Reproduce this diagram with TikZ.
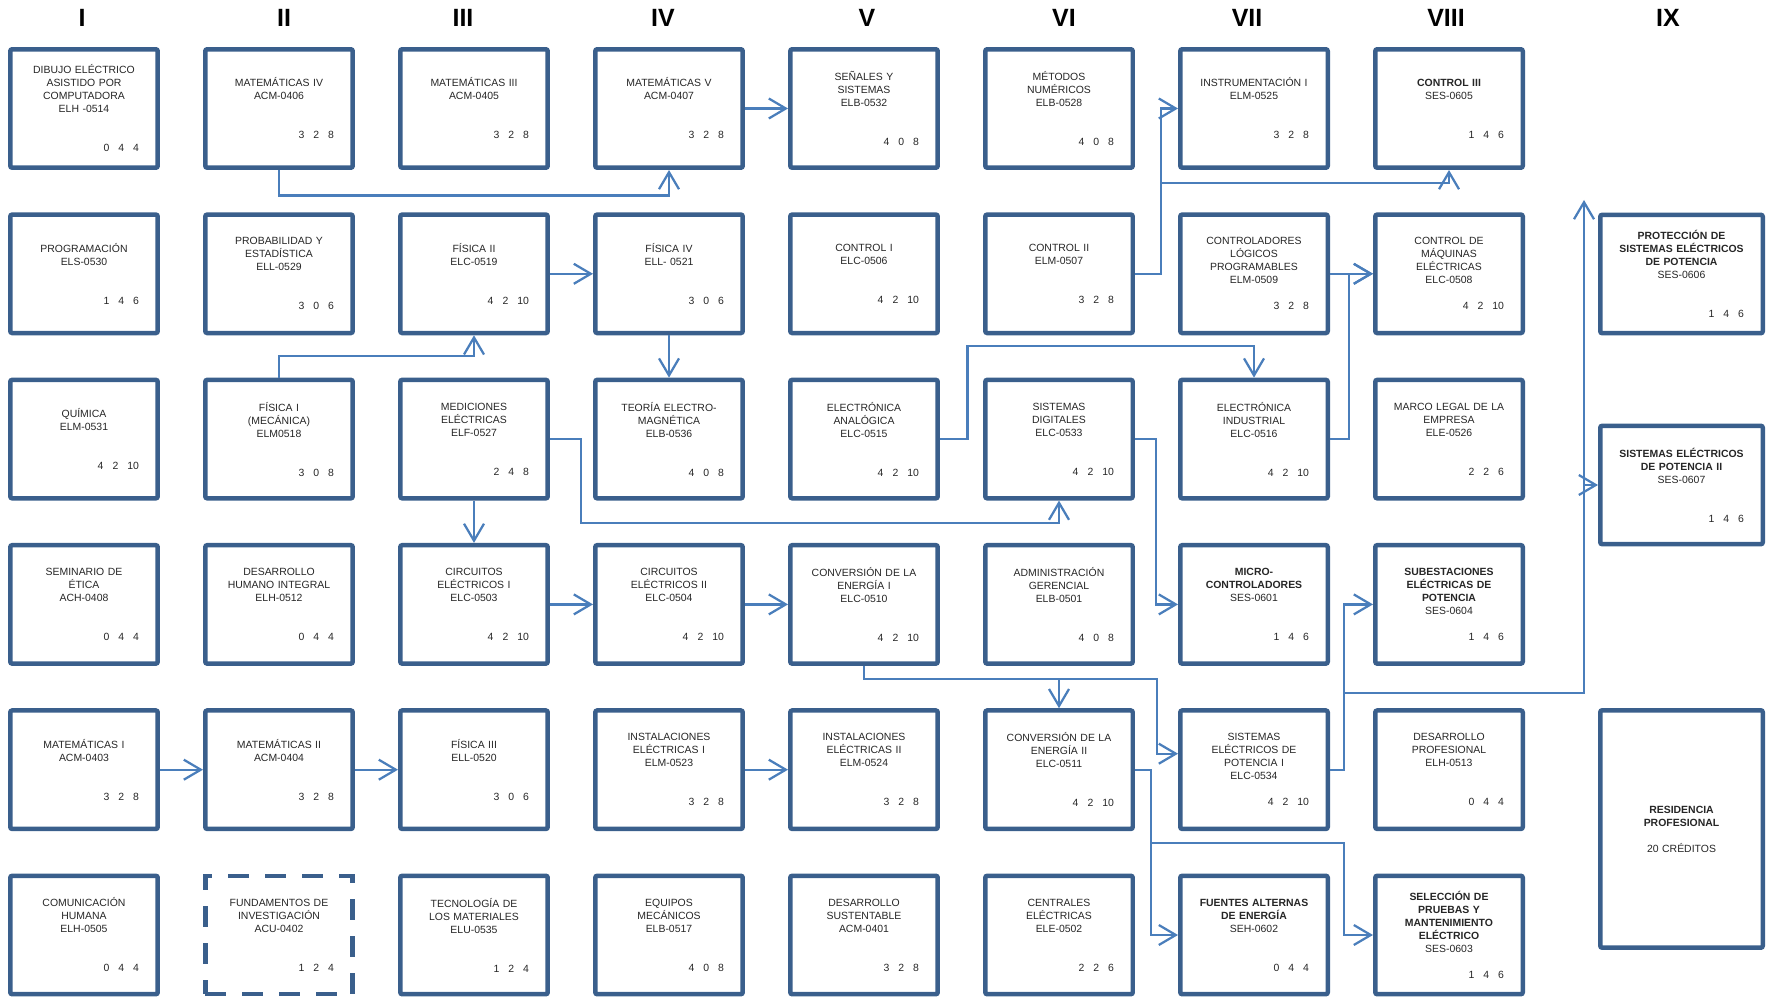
\documentclass[tikz,border=0pt]{standalone}
\usepackage{fontspec}
\setmainfont{Liberation Sans}
\usepackage{tikz}
\usetikzlibrary{arrows.meta,calc}
\definecolor{borde}{HTML}{3A5F8C}
\definecolor{liga}{HTML}{4A7EBB}

\begin{document}
\begin{tikzpicture}[x=0.02cm,y=-0.02cm,
  curso/.style={draw=borde,line width=0.09cm,rounded corners=0.04cm,minimum width=2.95cm,minimum height=2.37cm,inner sep=0pt,text width=2.6cm,align=center,text=black!85,font=\fontsize{5.95}{7.4}\selectfont},
  flecha/.style={draw=liga,line width=0.045cm,-{Straight Barb[length=0.34cm,width=0.4cm]}},
  sem/.style={font=\fontsize{14.2}{17}\selectfont\bfseries}]
  \useasboundingbox (0,0) rectangle (1768,1003);
  \foreach \x/\rom in {82/I,284/II,463/III,663/IV,867/V,1064/VI,1247/VII,1446/VIII,1668/IX}
    \node[sem] (sem\rom) at (\x,17.5) {\rom};
  \foreach \id/\col/\row/\txt/\gap/\ha/\hb/\hc in {
    dib/1/1/{DIBUJO ELÉCTRICO\\ASISTIDO POR\\COMPUTADORA\\ELH -0514}/0.52/0/4/4,
    prog/1/2/{PROGRAMACIÓN\\ELS-0530}/0.52/1/4/6,
    qui/1/3/{QUÍMICA\\ELM-0531}/0.52/4/2/10,
    eti/1/4/{SEMINARIO DE\\ÉTICA\\ACH-0408}/0.52/0/4/4,
    mat1/1/5/{MATEMÁTICAS I\\ACM-0403}/0.52/3/2/8,
    com/1/6/{COMUNICACIÓN\\HUMANA\\ELH-0505}/0.52/0/4/4,
    mat4/2/1/{MATEMÁTICAS IV\\ACM-0406}/0.52/3/2/8,
    prob/2/2/{PROBABILIDAD Y\\ESTADÍSTICA\\ELL-0529}/0.52/3/0/6,
    fis1/2/3/{FÍSICA I\\(MECÁNICA)\\ELM0518}/0.52/3/0/8,
    dhi/2/4/{DESARROLLO\\HUMANO INTEGRAL\\ELH-0512}/0.52/0/4/4,
    mat2/2/5/{MATEMÁTICAS II\\ACM-0404}/0.52/3/2/8,
    mat3/3/1/{MATEMÁTICAS III\\ACM-0405}/0.52/3/2/8,
    fis2/3/2/{FÍSICA II\\ELC-0519}/0.52/4/2/10,
    med/3/3/{MEDICIONES\\ELÉCTRICAS\\ELF-0527}/0.52/2/4/8,
    cir1/3/4/{CIRCUITOS\\ELÉCTRICOS I\\ELC-0503}/0.52/4/2/10,
    fis3/3/5/{FÍSICA III\\ELL-0520}/0.52/3/0/6,
    tec/3/6/{TECNOLOGÍA DE\\LOS MATERIALES\\ELU-0535}/0.52/1/2/4,
    mat5/4/1/{MATEMÁTICAS V\\ACM-0407}/0.52/3/2/8,
    fis4/4/2/{FÍSICA IV\\ELL- 0521}/0.52/3/0/6,
    teo/4/3/{TEORÍA ELECTRO-\\MAGNÉTICA\\ELB-0536}/0.52/4/0/8,
    cir2/4/4/{CIRCUITOS\\ELÉCTRICOS II\\ELC-0504}/0.52/4/2/10,
    ins1/4/5/{INSTALACIONES\\ELÉCTRICAS I\\ELM-0523}/0.52/3/2/8,
    equ/4/6/{EQUIPOS\\MECÁNICOS\\ELB-0517}/0.52/4/0/8,
    sen/5/1/{SEÑALES Y\\SISTEMAS\\ELB-0532}/0.52/4/0/8,
    con1/5/2/{CONTROL I\\ELC-0506}/0.52/4/2/10,
    ean/5/3/{ELECTRÓNICA\\ANALÓGICA\\ELC-0515}/0.52/4/2/10,
    conv1/5/4/{CONVERSIÓN DE LA\\ENERGÍA I\\ELC-0510}/0.52/4/2/10,
    ins2/5/5/{INSTALACIONES\\ELÉCTRICAS II\\ELM-0524}/0.52/3/2/8,
    dsus/5/6/{DESARROLLO\\SUSTENTABLE\\ACM-0401}/0.52/3/2/8,
    met/6/1/{MÉTODOS\\NUMÉRICOS\\ELB-0528}/0.52/4/0/8,
    con2/6/2/{CONTROL II\\ELM-0507}/0.52/3/2/8,
    sdig/6/3/{SISTEMAS\\DIGITALES\\ELC-0533}/0.52/4/2/10,
    adm/6/4/{ADMINISTRACIÓN\\GERENCIAL\\ELB-0501}/0.52/4/0/8,
    conv2/6/5/{CONVERSIÓN DE LA\\ENERGÍA II\\ELC-0511}/0.52/4/2/10,
    cen/6/6/{CENTRALES\\ELÉCTRICAS\\ELE-0502}/0.52/2/2/6,
    inst/7/1/{INSTRUMENTACIÓN I\\ELM-0525}/0.52/3/2/8,
    clp/7/2/{CONTROLADORES\\LÓGICOS\\PROGRAMABLES\\ELM-0509}/0.26/3/2/8,
    eind/7/3/{ELECTRÓNICA\\INDUSTRIAL\\ELC-0516}/0.52/4/2/10,
    micro/7/4/{\textbf{MICRO-}\\\textbf{CONTROLADORES}\\SES-0601}/0.52/1/4/6,
    sep1/7/5/{SISTEMAS\\ELÉCTRICOS DE\\POTENCIA I\\ELC-0534}/0.26/4/2/10,
    fue/7/6/{\textbf{FUENTES ALTERNAS}\\\textbf{DE ENERGÍA}\\SEH-0602}/0.52/0/4/4,
    con3/8/1/{\textbf{CONTROL III}\\SES-0605}/0.52/1/4/6,
    cmaq/8/2/{CONTROL DE\\MÁQUINAS\\ELÉCTRICAS\\ELC-0508}/0.26/4/2/10,
    mleg/8/3/{MARCO LEGAL DE LA\\EMPRESA\\ELE-0526}/0.52/2/2/6,
    sub/8/4/{\textbf{SUBESTACIONES}\\\textbf{ELÉCTRICAS DE}\\\textbf{POTENCIA}\\SES-0604}/0.26/1/4/6,
    dpro/8/5/{DESARROLLO\\PROFESIONAL\\ELH-0513}/0.52/0/4/4,
    sel/8/6/{\textbf{SELECCIÓN DE}\\\textbf{PRUEBAS Y}\\\textbf{MANTENIMIENTO}\\\textbf{ELÉCTRICO}\\SES-0603}/0.26/1/4/6}{
    \node[curso] (\id) at ({84+195*(\col-1)},{108.5+165.3*(\row-1)})
      {\txt\\[\gap cm]\hspace*{\fill}\ha\hspace{0.18cm}\hb\hspace{0.18cm}\hc\hspace*{0.2cm}};
  }
  \node[curso,rounded corners=0pt,dash pattern=on 0.42cm off 0.32cm] (fund) at (279,935)
    {FUNDAMENTOS DE\\INVESTIGACIÓN\\ACU-0402\\[0.52cm]\hspace*{\fill}1\hspace{0.18cm}2\hspace{0.18cm}4\hspace*{0.2cm}};
  \node[curso,minimum width=3.25cm,text width=2.9cm] (prot) at (1681.5,274)
    {\textbf{PROTECCIÓN DE}\\\textbf{SISTEMAS ELÉCTRICOS}\\\textbf{DE POTENCIA}\\SES-0606\\[0.52cm]\hspace*{\fill}1\hspace{0.18cm}4\hspace{0.18cm}6\hspace*{0.2cm}};
  \node[curso,minimum width=3.25cm,text width=2.9cm] (sep2) at (1681.5,485)
    {\textbf{SISTEMAS ELÉCTRICOS}\\\textbf{DE POTENCIA II}\\SES-0607\\[0.52cm]\hspace*{\fill}1\hspace{0.18cm}4\hspace{0.18cm}6\hspace*{0.2cm}};
  \node[curso,minimum width=3.25cm,minimum height=4.75cm,text width=2.9cm] (res) at (1681.5,829)
    {\textbf{RESIDENCIA}\\\textbf{PROFESIONAL}\\[0.26cm]20 CRÉDITOS};
  \coordinate (c2) at ($(con2.east)+(26,0)$);
  \coordinate (tope) at (1584,200);
  \draw[flecha] (mat4.south) -- ++(0,25.5) -| (mat5.south);
  \draw[flecha] (mat5.east) -- (sen.west);
  \draw[flecha] (con2.east) -- (c2) |- (inst.west);
  \draw[flecha] (c2 |- con3.south) ++(0,13) -| (con3.south);
  \draw[flecha] (fis1.north) -- ++(0,-21.6) -| (fis2.south);
  \draw[flecha] (fis2.east) -- (fis4.west);
  \draw[flecha] (fis4.south) -- (teo.north);
  \draw[flecha] (med.east) -- ++(31,0) -- ++(0,84) -| (sdig.south);
  \draw[flecha] (med.south) -- (cir1.north);
  \draw[flecha] (ean.east) -- ++(27.5,0) -- ++(0,-93) -| (eind.north);
  \draw[flecha] (sdig.east) -- ++(21,0) |- (micro.west);
  \draw[flecha] (clp.east) -- (cmaq.west);
  \draw[flecha] (eind.east) -- ++(19,0) |- (cmaq.west);
  \draw[flecha] (cir1.east) -- (cir2.west);
  \draw[flecha] (cir2.east) -- (conv1.west);
  \draw[flecha] (conv1.south) -- ++(0,13) -| (conv2.north);
  \draw[flecha] (conv1.south) -- ++(0,13) -| ($(sep1.west)+(-21,-16)$) -- ($(sep1.west)+(0,-16)$);
  \draw[flecha] (conv2.east) -- ++(16,0) |- (fue.west);
  \draw[flecha] (conv2.east) -- ++(16,0) -- ++(0,73) -| ($(sel.west)+(-29,0)$) -- (sel.west);
  \draw[flecha] (sep1.east) -- ++(14,0) |- (sub.west);
  \draw[flecha] (sep1.east) -- ++(14,0) -- ++(0,-77) -| (tope);
  \draw[flecha] (tope |- sep2.west) -- (sep2.west);
  \draw[flecha] (mat1.east) -- (mat2.west);
  \draw[flecha] (mat2.east) -- (fis3.west);
  \draw[flecha] (ins1.east) -- (ins2.west);
\end{tikzpicture}
\end{document}
